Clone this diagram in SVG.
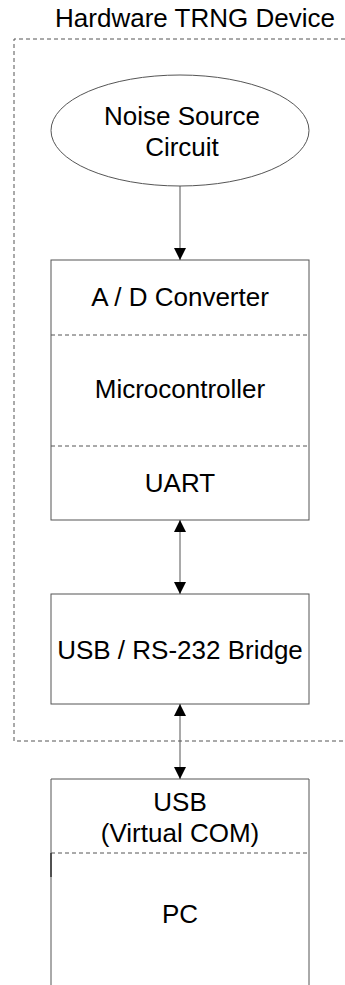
<svg xmlns="http://www.w3.org/2000/svg" width="345" height="985" viewBox="0 0 345 985">
<style>
.t{font-family:"Liberation Sans",Arial,sans-serif;font-size:26px;fill:#000;text-anchor:middle}
.box{fill:#fff;stroke:#555;stroke-width:1}
.div{stroke:#555;stroke-width:1;stroke-dasharray:4 3;fill:none}
.con{stroke:#555;stroke-width:1;fill:none}
</style>
<defs>
<marker id="ah" viewBox="0 0 10 10" refX="10" refY="5" markerWidth="12" markerHeight="12" markerUnits="userSpaceOnUse" orient="auto-start-reverse">
<path d="M0,0 L10,5 L0,10 z" fill="#000"/>
</marker>
</defs>
<g id="container">
<path d="M345,39 H14 V741 H345" class="div"/>
<text class="t" x="195" y="27">Hardware TRNG Device</text>
</g>
<g id="noise">
<ellipse cx="180" cy="130.5" rx="129" ry="55.5" class="box"/>
<text class="t" x="182" y="125">Noise Source</text>
<text class="t" x="182" y="156">Circuit</text>
</g>
<g id="mcu">
<rect x="51" y="260" width="258" height="260" class="box"/>
<line x1="51" y1="335" x2="309" y2="335" class="div"/>
<line x1="51" y1="446" x2="309" y2="446" class="div"/>
<text class="t" x="180" y="306">A / D Converter</text>
<text class="t" x="180" y="398">Microcontroller</text>
<text class="t" x="180" y="492">UART</text>
</g>
<g id="bridge">
<rect x="51" y="594" width="258" height="110" class="box"/>
<text class="t" x="180" y="659">USB / RS-232 Bridge</text>
</g>
<g id="pc">
<path d="M51,986 V779 H309 V986" class="box"/>
<line x1="51" y1="853" x2="309" y2="853" class="div"/>
<line x1="51" y1="853" x2="51" y2="877" stroke="#333" stroke-width="1.5"/>
<text class="t" x="180" y="811">USB</text>
<text class="t" x="180" y="842">(Virtual COM)</text>
<text class="t" x="180" y="923">PC</text>
</g>
<g id="connectors">
<line x1="180" y1="186" x2="180" y2="260" class="con" marker-end="url(#ah)"/>
<line x1="180" y1="520" x2="180" y2="594" class="con" marker-start="url(#ah)" marker-end="url(#ah)"/>
<line x1="180" y1="704" x2="180" y2="779" class="con" marker-start="url(#ah)" marker-end="url(#ah)"/>
</g>
</svg>
